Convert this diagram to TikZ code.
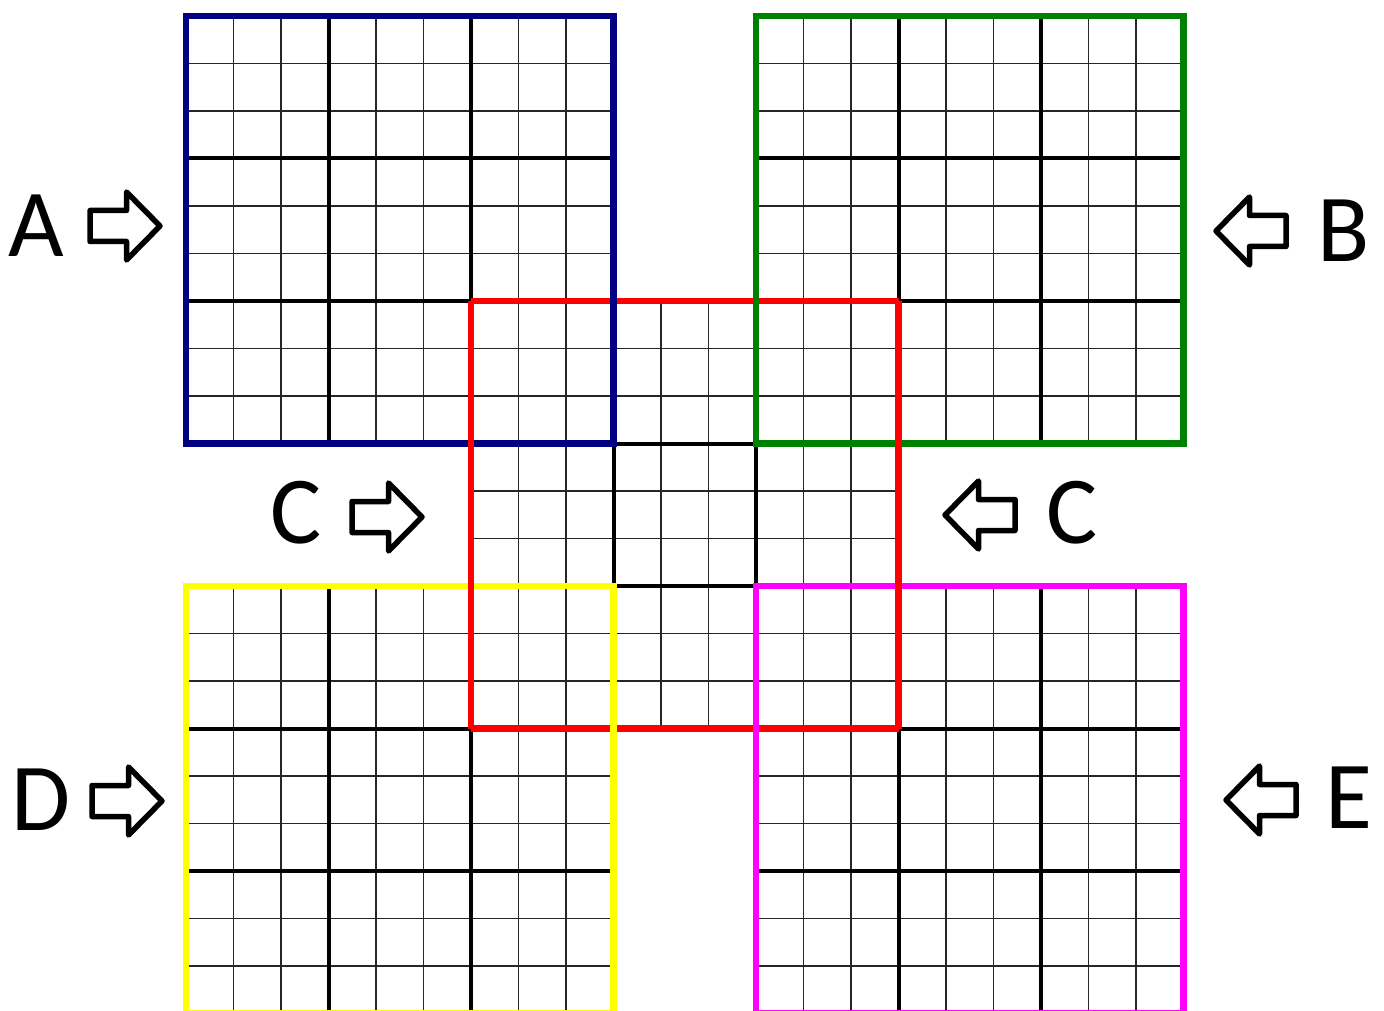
\documentclass[tikz,border=0pt]{standalone}
\usepackage{fontspec}
\setmainfont{Carlito}
\definecolor{bluebox}{RGB}{0,0,128}
\definecolor{greenbox}{RGB}{0,128,0}
\definecolor{redbox}{RGB}{255,0,0}
\definecolor{yellowbox}{RGB}{255,255,0}
\definecolor{magentabox}{RGB}{255,0,255}
\tikzset{
  thinline/.style={line width=0.75pt, draw=black!85},
  blockline/.style={line width=2pt, draw=black},
  border/.style={line width=3.1pt},
  letter/.style={font=\fontsize{48}{50}\selectfont, inner sep=0pt, anchor=center},
  blockarrow/.pic={
    \draw[line width=2.75pt, line join=round, fill=white]
      (-35,-15.5) -- (1.5,-15.5) -- (1.5,-34) -- (35,0) -- (1.5,34) -- (1.5,15.5) -- (-35,15.5) -- cycle;
  }
}
\newcommand{\sudokugrid}[2]{%
  \foreach \i in {1,2,4,5,7,8} {
    \draw[thinline] (#1+\i,#2) -- (#1+\i,#2+9);
    \draw[thinline] (#1,#2+\i) -- (#1+9,#2+\i);
  }
  \foreach \i in {3,6} {
    \draw[blockline] (#1+\i,#2) -- (#1+\i,#2+9);
    \draw[blockline] (#1,#2+\i) -- (#1+9,#2+\i);
  }
}
\begin{document}
\begin{tikzpicture}[x=0.5pt,y=-0.5pt]
  \useasboundingbox[fill=white] (0,0) rectangle (1384,1010);
  \begin{scope}
    \clip (0,0) rectangle (1384,1010);
    \begin{scope}[shift={(186,16)}, scale=47.5]
      \sudokugrid{0}{0}
      \sudokugrid{12}{0}
      \sudokugrid{6}{6}
      \sudokugrid{0}{12}
      \sudokugrid{12}{12}
      % red horizontal edges (underneath)
      \draw[border, redbox] (6,6) -- (15,6);
      \draw[border, redbox] (6,15) -- (15,15);
      % square borders
      \draw[border, bluebox] (0,0) rectangle (9,9);
      \draw[border, greenbox] (12,0) rectangle (21,9);
      \draw[border, yellowbox] (0,12) rectangle (9,21);
      \draw[border, magentabox] (12,12) rectangle (21,21);
      % red vertical edges (on top)
      \draw[border, redbox] (6,6) -- (6,15);
      \draw[border, redbox] (15,6) -- (15,15);
    \end{scope}
  \end{scope}
  % letters
  \node[letter] (lA) at (36,226) {A};
  \node[letter] (lB) at (1344,231) {B};
  \node[letter] (lC1) at (296,513) {C};
  \node[letter] (lC2) at (1072,513) {C};
  \node[letter] (lD) at (41,800) {D};
  \node[letter] (lE) at (1349,798) {E};
  % arrows
  \pic at (125,226) {blockarrow};
  \pic at (387,517) {blockarrow};
  \pic at (127,801) {blockarrow};
  \pic[xscale=-1] at (1251,231) {blockarrow};
  \pic[xscale=-1] at (980,515) {blockarrow};
  \pic[xscale=-1] at (1261,800) {blockarrow};
\end{tikzpicture}
\end{document}
